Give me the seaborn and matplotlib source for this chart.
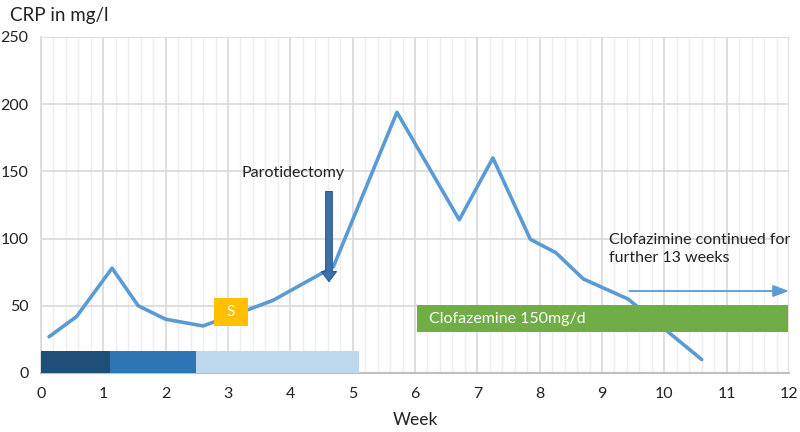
import matplotlib
matplotlib.use("Agg")
import matplotlib.pyplot as plt
import seaborn as sns
import pandas as pd
import numpy as np
from matplotlib.patches import Rectangle

# ---- data ----
weeks = [0.13, 0.57, 1.14, 1.56, 2.0, 2.6, 3.35, 3.72, 4.69, 5.71, 6.71, 7.25, 7.85, 8.26, 8.70, 9.42, 10.6]
crp = [27, 42, 78, 50, 40, 35, 47.6, 54, 79, 194, 114, 160, 99.5, 89.5, 70, 55, 10]

# treatment phases at the bottom (start, end, colour)
phase_start = [0.0, 1.10, 2.49]
phase_end = [1.10, 2.49, 5.10]
phase_colors = ["#1f4e79", "#2e75b6", "#bdd7ee"]
phase_height = 16

clof_start, clof_end = 6.04, 11.99
clof_low, clof_high = 30.3, 50.6
clof_label = "Clofazemine 150mg/d"

s_box = (2.78, 3.32, 35, 55.6)
parotid_week, parotid_top, parotid_bottom = 4.62, 135, 68
cont_start, cont_end, cont_y = 9.44, 12.0, 61
cont_label = "Clofazimine continued for\nfurther 13 weeks"

x_ticks = list(range(0, 13))
y_ticks = [0, 50, 100, 150, 200, 250]

# ---- style ----
sns.set_theme(style="white")
plt.rcParams['font.family'] = ['Lato', 'DejaVu Sans']

fig = plt.figure(figsize=(8, 4.32), dpi=100)
ax = fig.add_axes([41/800, 1-373/432, (789-41)/800, (373-37)/432])

df = pd.DataFrame({"week": weeks, "crp": crp})
sns.lineplot(data=df, x="week", y="crp", ax=ax, color="#5b9bd5", linewidth=2.6, zorder=3)

ax.set_xlim(0, 12)
ax.set_ylim(0, 250)
ax.set_xticks(x_ticks)
ax.set_xticks(np.arange(0, 12.01, 0.2), minor=True)
ax.set_yticks(y_ticks)
ax.grid(which="major", axis="both", color="#d9d9d9", linewidth=1.2, zorder=0)
ax.grid(which="minor", axis="x", color="#eeeeee", linewidth=1.0, zorder=0)
ax.set_axisbelow(True)
for s in ["top", "right"]:
    ax.spines[s].set_visible(False)
ax.spines["left"].set_color("#d9d9d9")
ax.spines["bottom"].set_color("#bfbfbf")
ax.spines["left"].set_linewidth(1.2)
ax.spines["bottom"].set_linewidth(1.5)
ax.tick_params(axis="both", which="both", length=0, labelsize=11.5, colors="#222222")
ax.tick_params(axis="y", pad=9)
ax.tick_params(axis="x", pad=10)
ax.set_xlabel("Week", fontsize=12.5, color="#222222", labelpad=8)
ax.set_ylabel("")
fig.text(10/800, 1-16/432, "CRP in mg/l", fontsize=13.5, color="#222222", va="center", ha="left")

# phases
for a, b, c in zip(phase_start, phase_end, phase_colors):
    ax.add_patch(Rectangle((a, 0), b-a, phase_height, facecolor=c, edgecolor="none", zorder=4))

# clofazimine bar
ax.add_patch(Rectangle((clof_start, clof_low), clof_end-clof_start, clof_high-clof_low,
                       facecolor="#70ad47", edgecolor="none", zorder=4))
ax.text(clof_start+0.19, (clof_low+clof_high)/2, clof_label, color="white", fontsize=11.5,
        va="center", ha="left", zorder=5)

# S box
ax.add_patch(Rectangle((s_box[0], s_box[2]), s_box[1]-s_box[0], s_box[3]-s_box[2],
                       facecolor="#ffc000", edgecolor="none", zorder=4))
ax.text((s_box[0]+s_box[1])/2, (s_box[2]+s_box[3])/2, "S", color="white", fontsize=11,
        ha="center", va="center", zorder=5)

# parotidectomy arrow
ax.annotate("", xy=(parotid_week, parotid_bottom), xytext=(parotid_week, parotid_top),
            arrowprops=dict(arrowstyle="simple,head_length=0.6,head_width=0.9,tail_width=0.4",
                            facecolor="#3e70a8", edgecolor="#2f5597", linewidth=0.8,
                            shrinkA=0, shrinkB=0), zorder=5)
ax.text(4.04, 149, "Parotidectomy", fontsize=11.5, color="#222222", ha="center", va="center")

# continued arrow
ax.annotate("", xy=(cont_end, cont_y), xytext=(cont_start, cont_y),
            arrowprops=dict(arrowstyle="-|>,head_length=0.8,head_width=0.3",
                            color="#5b9bd5", linewidth=1.3, shrinkA=0, shrinkB=0),
            zorder=5, annotation_clip=False)
ax.text(9.11, 92, cont_label, fontsize=11.5, color="#222222", ha="left", va="center",
        linespacing=1.35)

fig.savefig("out.png", dpi=100)
